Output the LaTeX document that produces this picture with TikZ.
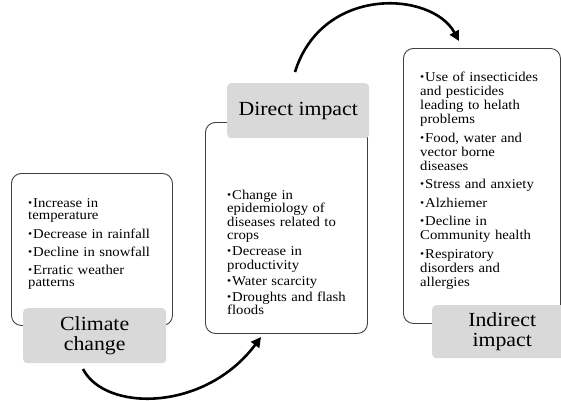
\documentclass[tikz,border=0pt]{standalone}
\usepackage{fontspec}
\setmainfont{Liberation Serif}[FakeStretch=1.09]
\usetikzlibrary{arrows.meta}

\definecolor{boxline}{HTML}{404040}
\definecolor{labelfill}{HTML}{D9D9D9}

\newlength\bulind
\setlength\bulind{5pt}
% one bullet point with hanging indent; \\ forces a line break inside it
\newcommand\bpoint[1]{\par\hangindent=\bulind\hangafter=1\noindent
  \makebox[\bulind][l]{\raisebox{.1ex}{\scalebox{0.8}{\textbullet}}}#1}

\tikzset{
  panel/.style={draw=boxline, line width=0.9pt, rounded corners=10pt,
    inner sep=0pt, anchor=north west},
  tag/.style={fill=labelfill, rounded corners=4pt, inner sep=0pt,
    anchor=north west, align=center,
    font=\fontsize{20}{20}\selectfont},
  points/.style={anchor=base west, inner sep=0pt, text width=138pt,
    align=left},
  flow/.style={line width=2.6pt, -{Triangle[length=10pt,width=10pt]}}
}

\begin{document}
\begin{tikzpicture}[x=1pt, y=-1pt]
\useasboundingbox (0,0) rectangle (561,400);

% content panels
\node[panel, minimum width=161pt, minimum height=152pt] (p1) at (11,173) {};
\node[panel, minimum width=162pt, minimum height=211pt] (p2) at (205,122) {};
\node[panel, minimum width=157pt, minimum height=275pt] (p3) at (403,48) {};

% bullet lists
\node[points, font=\fontsize{13.5}{12}\selectfont] (t1) at (28,189) {\setlength\parskip{6pt}%
  \bpoint{Increase in\\temperature}
  \bpoint{Decrease in rainfall}
  \bpoint{Decline in snowfall}
  \bpoint{Erratic weather\\patterns}\par};
\node[points, font=\fontsize{13.5}{13.5}\selectfont] (t2) at (227,183) {\setlength\parskip{2.5pt}%
  \bpoint{Change in\\epidemiology of\\diseases related to\\crops}
  \bpoint{Decrease in\\productivity}
  \bpoint{Water scarcity}
  \bpoint{Droughts and flash\\floods}\par};
\node[points, font=\fontsize{13.5}{14}\selectfont] (t3) at (420,63) {\setlength\parskip{4.5pt}%
  \bpoint{Use of insecticides\\and pesticides\\leading to helath\\problems}
  \bpoint{Food, water and\\vector borne\\diseases}
  \bpoint{Stress and anxiety}
  \bpoint{Alzhiemer}
  \bpoint{Decline in\\Community health}
  \bpoint{Respiratory\\disorders and\\allergies}\par};

% stage labels
\node[tag, minimum width=143pt, minimum height=55pt] (l1) at (23,308) {Climate\\change};
\node[tag, minimum width=142pt, minimum height=55pt] (l2) at (227,83) {Direct impact};
\node[tag, minimum width=140pt, minimum height=53pt] (l3) at (432,305) {Indirect\\impact};

% connecting arrows
\coordinate (a1s) at (83,369);
\coordinate (a1e) at (261,337);
\coordinate (a2s) at (295,72);
\coordinate (a2e) at (459,41);
\draw[flow] (a1s) .. controls (105,412) and (205,412) .. (a1e);
\draw[flow] (a2s) .. controls (322,-15) and (432,-9) .. (a2e);
\end{tikzpicture}
\end{document}
